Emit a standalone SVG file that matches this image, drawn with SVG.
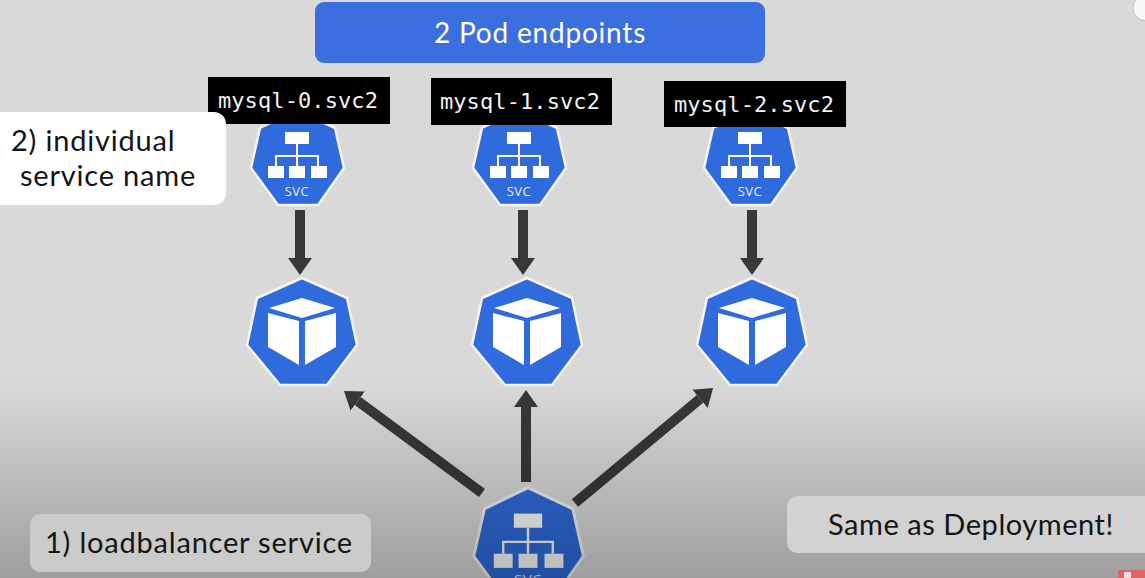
<svg xmlns="http://www.w3.org/2000/svg" width="1145" height="578" viewBox="0 0 1145 578">
<style>
.hept{fill:#2f6bdc;stroke:#f4f4f4;stroke-width:2.5;stroke-linejoin:round}
.w{fill:#fff}
.wl{fill:none;stroke:#fff;stroke-width:2}
.lbl{fill:#000}
.mono{font-family:"DejaVu Sans Mono",monospace;font-size:22px;fill:#f2f2f2;letter-spacing:.1px}
.sans{font-family:Lato,"Liberation Sans",sans-serif;font-size:29px;fill:#141414;letter-spacing:.8px}
.svct{font-family:"Open Sans","Liberation Sans",sans-serif;font-size:13px;fill:#e8eefc;text-anchor:middle;letter-spacing:.5px}
.conn{stroke:#383838;stroke-width:10;fill:none;marker-end:url(#ah)}
</style>
<defs>
<marker id="ah" markerUnits="userSpaceOnUse" markerWidth="17" markerHeight="26" refX="0" refY="13" orient="auto" viewBox="0 0 17 26"><path d="M0 1L17 13L0 25Z" fill="#383838"/></marker>
<linearGradient id="shade" x1="0" y1="0" x2="0" y2="1"><stop offset="0" stop-color="#000" stop-opacity="0"/><stop offset="1" stop-color="#000" stop-opacity=".27"/></linearGradient>
<g id="svcIcon">
<path class="hept" d="M0 -13L38 5L47 45L21 82L-19 82L-46 45L-37 5Z"/>
<rect class="w" x="-12" y="9" width="24" height="12"/>
<rect class="w" x="-29" y="43" width="16" height="12"/>
<rect class="w" x="-8" y="43" width="16" height="12"/>
<rect class="w" x="14" y="43" width="16" height="12"/>
<path class="wl" d="M0 21V43M-21 43V33H21V43"/>
</g>
<g id="podIcon">
<path class="hept" d="M0 -55L45 -35L55 12L25 52L-22 52L-55 12L-45 -35Z"/>
<path class="w" d="M0 -35L33 -25L0 -15L-33 -25Z"/>
<path class="w" d="M-34 -20L-3 -12V32L-34 14Z"/>
<path class="w" d="M3 -12L34 -20V14L3 32Z"/>
</g>
</defs>
<rect id="background" width="1145" height="578" fill="#d9d9d9"/>
<g id="connectors">
<path class="conn" d="M300 210V258"/>
<path class="conn" d="M523 210V258"/>
<path class="conn" d="M752 210V258"/>
<path class="conn" d="M482 493L357.7 401.1"/>
<path class="conn" d="M526 482V407"/>
<path class="conn" d="M575 503L700 398.9"/>
</g>
<g id="svc-0"><use href="#svcIcon" x="297" y="123"/><text class="svct" x="297" y="196">SVC</text></g>
<g id="svc-1"><use href="#svcIcon" x="519" y="123"/><text class="svct" x="519" y="196">SVC</text></g>
<g id="svc-2"><use href="#svcIcon" x="750" y="123"/><text class="svct" x="750" y="196">SVC</text></g>
<g id="pod-0"><use href="#podIcon" x="302" y="333"/></g>
<g id="pod-1"><use href="#podIcon" x="527" y="333"/></g>
<g id="pod-2"><use href="#podIcon" x="752" y="333"/></g>
<g id="svc-lb"><use href="#svcIcon" transform="translate(528 503) scale(1.18)"/><text class="svct" x="528" y="585" style="font-size:15px">SVC</text></g>
<rect id="shade-overlay" y="380" width="1145" height="198" fill="url(#shade)"/>
<g id="title"><rect x="315" y="2" width="450" height="61" rx="9" fill="#3b6fdf"/><text x="540" y="43" text-anchor="middle" style="font-family:Lato,'Liberation Sans',sans-serif;font-size:28px;fill:#fff;letter-spacing:.8px">2 Pod endpoints</text></g>
<g id="label-0"><rect class="lbl" x="208" y="77" width="182" height="47"/><text class="mono" x="298" y="108" text-anchor="middle">mysql-0.svc2</text></g>
<g id="label-1"><rect class="lbl" x="431" y="78" width="181" height="47"/><text class="mono" x="520" y="109" text-anchor="middle">mysql-1.svc2</text></g>
<g id="label-2"><rect class="lbl" x="664" y="81" width="182" height="46"/><text class="mono" x="754" y="112" text-anchor="middle">mysql-2.svc2</text></g>
<g id="note-individual"><rect x="-12" y="112" width="238" height="93" rx="12" fill="#fff"/><text class="sans" x="11" y="151">2) individual</text><text class="sans" x="20" y="186">service name</text></g>
<g id="note-loadbalancer"><rect x="30" y="514" width="341" height="58" rx="10" fill="#cbcbcb"/><text class="sans" x="45" y="553">1) loadbalancer service</text></g>
<g id="note-deployment"><rect x="787" y="496" width="370" height="57" rx="10" fill="#d2d2d2"/><text class="sans" x="828" y="535" style="letter-spacing:.55px">Same as Deployment!</text></g>
<circle cx="1146" cy="8" r="13" fill="#fafafa" stroke="#bbb"/>
<rect x="1118" y="570" width="27" height="8" fill="#e06666"/><rect x="1124" y="572" width="7" height="6" fill="#f6dcdc"/>
</svg>
